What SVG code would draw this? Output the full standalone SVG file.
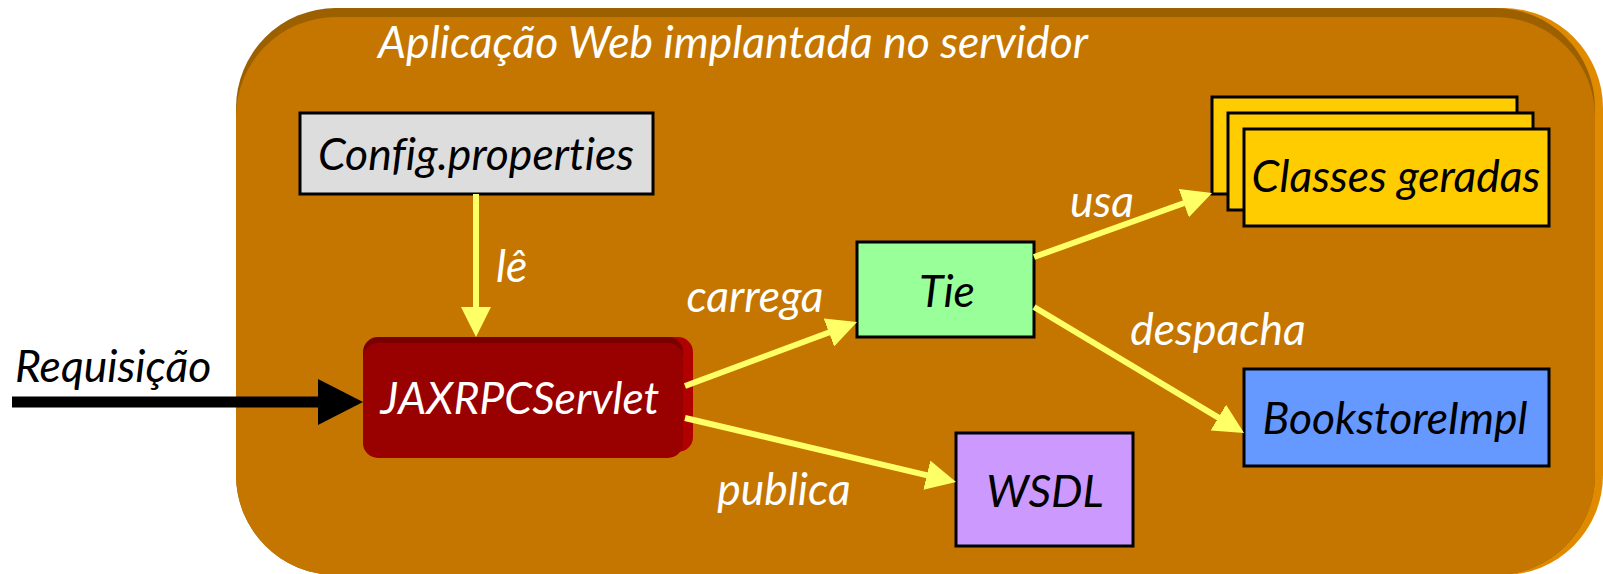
<svg xmlns="http://www.w3.org/2000/svg" width="1603" height="574" viewBox="0 0 1603 574">
<defs>
<style>
.lbl{font-family:Lato,"Open Sans","Liberation Sans",sans-serif;font-style:italic;font-size:44.5px;font-variant-ligatures:none;font-feature-settings:"liga" 0}
.w{fill:#FFFFFF}
.k{fill:#000000}
.box{stroke:#000000;stroke-width:3}
.yl{stroke:#FFFF66;stroke-width:6;fill:none}
</style>
<marker id="ya" markerUnits="userSpaceOnUse" markerWidth="30" markerHeight="30" viewBox="0 0 30 30" refX="5" refY="15" orient="auto">
<path d="M0,0 L30,15 L0,30 z" fill="#FFFF66"/>
</marker>
<marker id="ka" markerUnits="userSpaceOnUse" markerWidth="45" markerHeight="46" viewBox="0 0 45 46" refX="10" refY="23" orient="auto">
<path d="M0,0 L45,23 L0,46 z" fill="#000000"/>
</marker>
</defs>
<g id="container">
<rect x="244" y="8" width="1359" height="567" rx="100" ry="100" fill="#E08A00"/>
<rect x="236" y="8" width="1359" height="567" rx="100" ry="100" fill="#9C6000"/>
<rect x="236" y="17" width="1359" height="558" rx="100" ry="100" fill="#C47600"/>
<text class="lbl w" x="733" y="58" text-anchor="middle">Aplicação Web implantada no servidor</text>
</g>
<g id="config">
<rect class="box" x="300" y="113" width="353" height="81" fill="#DDDDDD"/>
<text class="lbl k" x="476" y="170" text-anchor="middle">Config.properties</text>
</g>
<g id="servlet">
<rect x="373" y="337" width="320" height="115" rx="15" fill="#B00000"/>
<rect x="363" y="337" width="320" height="115" rx="15" fill="#7A0000"/>
<rect x="363" y="343" width="320" height="115" rx="15" fill="#990000"/>
<text class="lbl w" x="520" y="414" text-anchor="middle">JAXRPCServlet</text>
</g>
<g id="tie">
<rect class="box" x="857" y="242" width="177" height="95" fill="#99FF99"/>
<text class="lbl k" x="947" y="307" text-anchor="middle">Tie</text>
</g>
<g id="wsdl">
<rect class="box" x="956" y="433" width="177" height="113" fill="#CC99FF"/>
<text class="lbl k" x="1045" y="507" text-anchor="middle">WSDL</text>
</g>
<g id="classes">
<rect class="box" x="1212" y="97" width="305" height="97" fill="#FFCC00"/>
<rect class="box" x="1228" y="113" width="305" height="97" fill="#FFCC00"/>
<rect class="box" x="1244" y="129" width="305" height="97" fill="#FFCC00"/>
<text class="lbl k" x="1396" y="192" text-anchor="middle">Classes geradas</text>
</g>
<g id="bookstore">
<rect class="box" x="1244" y="369" width="305" height="97" fill="#6699FF"/>
<text class="lbl k" x="1395" y="434" text-anchor="middle">BookstoreImpl</text>
</g>
<g id="connectors">
<line class="yl" x1="476" y1="194" x2="476" y2="312" marker-end="url(#ya)"/>
<line class="yl" x1="685" y1="386" x2="833.6" y2="330.7" marker-end="url(#ya)"/>
<line class="yl" x1="685" y1="418" x2="931.7" y2="476.3" marker-end="url(#ya)"/>
<line class="yl" x1="1034" y1="257" x2="1188.5" y2="201.5" marker-end="url(#ya)"/>
<line class="yl" x1="1034" y1="307" x2="1222.6" y2="420.1" marker-end="url(#ya)"/>
<line x1="12" y1="402" x2="328" y2="402" stroke="#000000" stroke-width="11" marker-end="url(#ka)"/>
<text class="lbl w" x="496" y="282">lê</text>
<text class="lbl k" x="15" y="382">Requisição</text>
<text class="lbl w" x="755" y="312" text-anchor="middle">carrega</text>
<text class="lbl w" x="784" y="505" text-anchor="middle">publica</text>
<text class="lbl w" x="1102" y="217" text-anchor="middle">usa</text>
<text class="lbl w" x="1218" y="345" text-anchor="middle">despacha</text>
</g>
</svg>
